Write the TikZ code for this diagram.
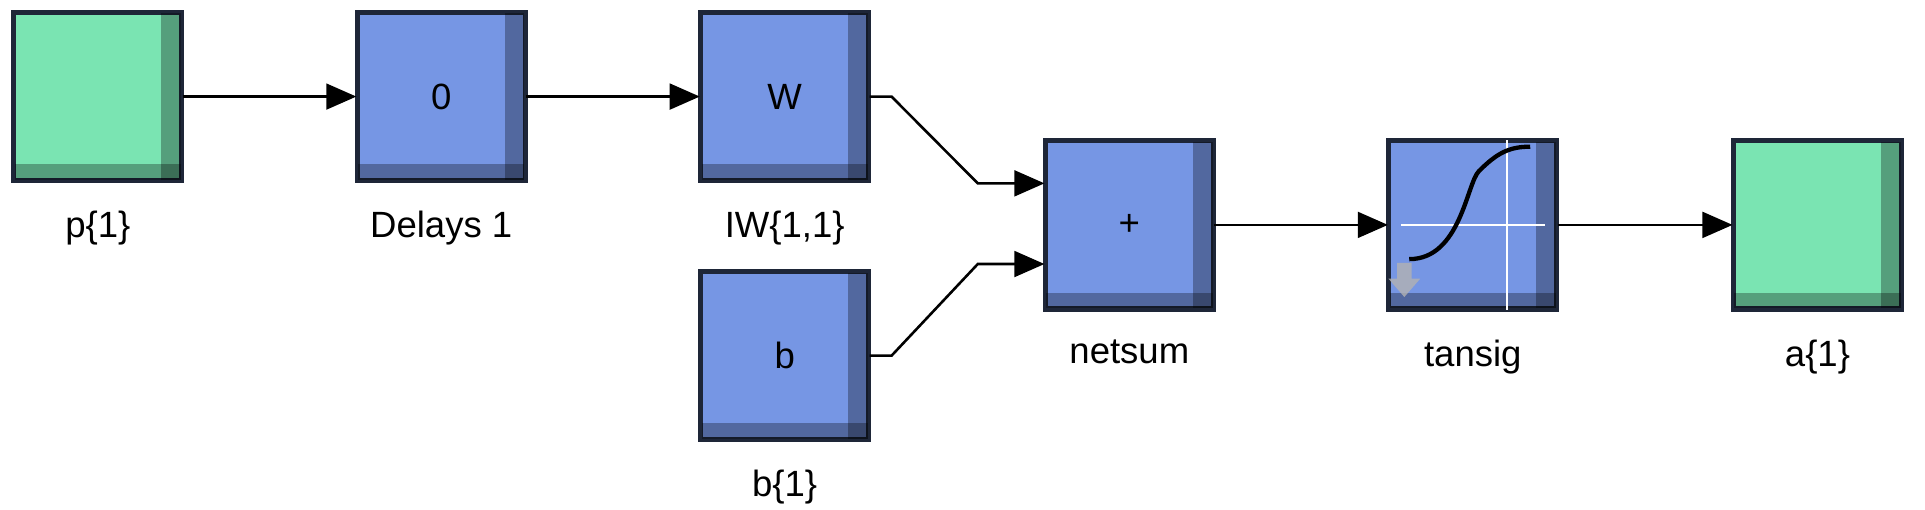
\documentclass[tikz,border=0pt]{standalone}
\usepackage{fontspec}
\setmainfont{Liberation Sans}
\usetikzlibrary{arrows.meta,positioning}
\definecolor{blk}{RGB}{118,150,228}
\definecolor{inp}{RGB}{122,228,178}
\definecolor{edge}{RGB}{30,38,56}
\tikzset{
	blk/.style = {draw=edge, line width=0.8pt, fill=blk, minimum size=1.36cm, inner sep=0pt,
		font=\fontsize{8.5}{10}\selectfont},
	io/.style = {blk, fill=inp},
	lbl/.style = {font=\fontsize{8.5}{10}\selectfont},
	wire/.style = {line width=0.6pt, -{Triangle[length=7pt,width=6pt]}},
}
\begin{document}
\begin{tikzpicture}[x=0.01cm,y=-0.01cm]
	\useasboundingbox (0,0) rectangle (1575,417);

	\node[io]  (p)   at (80,79)    {};
	\node[blk] (del) at (361,79)   {0};
	\node[blk] (W)   at (642,79)   {W};
	\node[blk] (b)   at (642,291)  {b};
	\node[blk] (sum) at (924,184)  {+};
	\node[blk] (tan) at (1205,184) {};
	\node[io]  (a)   at (1487,184) {};

	% shading on right and bottom edges
	\foreach \n in {p,del,W,b,sum,tan,a}{
		\fill[black,opacity=0.3] ([xshift=-5pt]\n.north east) rectangle (\n.south east);
		\fill[black,opacity=0.3] (\n.south west) rectangle ([yshift=4pt]\n.south east);
		\draw[edge, line width=0.8pt] (\n.north west) rectangle (\n.south east);
	}

	% tansig icon
	\draw[white, line width=0.5pt] ([xshift=3pt]tan.west) -- ([xshift=-3pt]tan.east)
		([xshift=8pt]tan.north) -- ([xshift=8pt]tan.south);
	\draw[black, line width=1pt] (1153,212) .. controls (1195,212) and (1200,150) .. (1210,140)
		.. controls (1225,125) and (1235,120) .. (1252,120);
	\fill[gray!60, opacity=0.8] (1143,215) -- (1155,215) -- (1155,228) -- (1162,228)
		-- (1149,243) -- (1136,228) -- (1143,228) -- cycle;

	\node[lbl, below=0.12cm of p]   (lp)   {p\{1\}};
	\node[lbl, below=0.12cm of del] (ldel) {Delays 1};
	\node[lbl, below=0.12cm of W]   (lW)   {IW\{1,1\}};
	\node[lbl, below=0.12cm of b]   (lb)   {b\{1\}};
	\node[lbl, below=0.12cm of sum] (lsum) {netsum};
	\node[lbl, below=0.12cm of tan] (ltan) {tansig};
	\node[lbl, below=0.12cm of a]   (la)   {a\{1\}};

	\draw[wire] (p) -- (del);
	\draw[wire] (del) -- (W);
	\draw[wire] (W.east) -- ++(18,0) -- (800,150) -- (sum.west |- 0,150);
	\draw[wire] (b.east) -- ++(18,0) -- (800,216) -- (sum.west |- 0,216);
	\draw[wire] (sum) -- (tan);
	\draw[wire] (tan) -- (a);
\end{tikzpicture}
\end{document}
